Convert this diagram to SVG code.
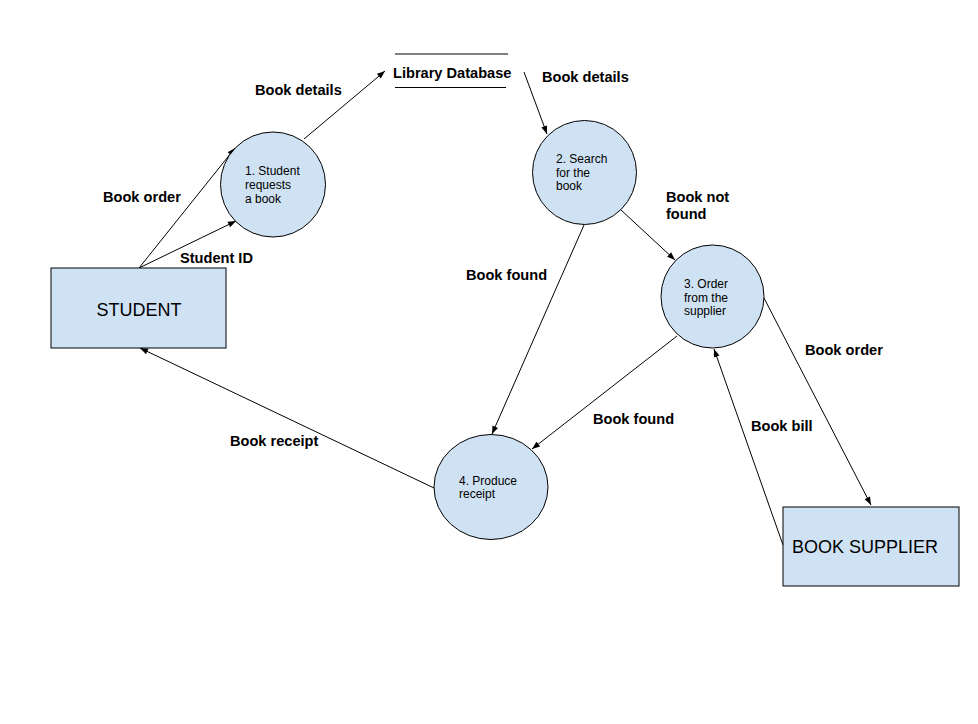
<svg xmlns="http://www.w3.org/2000/svg" width="978" height="724" viewBox="0 0 978 724">
<style>
.box{fill:#cfe2f3;stroke:#000;stroke-width:1}
.ln{fill:none;stroke:#000;stroke-width:1;marker-end:url(#ah)}
.lbl{font-family:"Liberation Sans",Arial,sans-serif;font-weight:bold;font-size:14.6px;fill:#000}
.pt{font-family:"Liberation Sans",Arial,sans-serif;font-size:12px;fill:#000}
.ent{font-family:"Liberation Sans",Arial,sans-serif;font-size:18px;fill:#000}
</style>
<defs>
<marker id="ah" markerUnits="userSpaceOnUse" markerWidth="10" markerHeight="10" viewBox="0 0 10 10" refX="9" refY="5" orient="auto">
<path d="M1,2 L9,5 L1,8 Z" fill="#000"/>
</marker>
</defs>
<rect width="978" height="724" fill="#fff"/>
<g id="connectors">
<line class="ln" x1="139" y1="268" x2="235" y2="148"/>
<line class="ln" x1="139" y1="268" x2="236" y2="221"/>
<line class="ln" x1="304" y1="139" x2="385" y2="71"/>
<line class="ln" x1="524" y1="72" x2="547" y2="134"/>
<line class="ln" x1="621" y1="210" x2="675" y2="260"/>
<line class="ln" x1="584" y1="225" x2="492" y2="434"/>
<line class="ln" x1="677" y1="336" x2="532" y2="449"/>
<line class="ln" x1="764" y1="298" x2="871" y2="505"/>
<line class="ln" x1="783" y1="545" x2="714" y2="349"/>
<line class="ln" x1="434" y1="488" x2="140" y2="348"/>
</g>
<g id="student">
<rect class="box" x="51" y="268" width="175" height="80"/>
<text class="ent" x="139" y="316" text-anchor="middle">STUDENT</text>
</g>
<g id="p1">
<circle class="box" cx="273" cy="184.5" r="52.5"/>
<text class="pt" x="245" y="175">1. Student</text>
<text class="pt" x="245" y="189">requests</text>
<text class="pt" x="245" y="203">a book</text>
</g>
<g id="library-db">
<line x1="395" y1="54" x2="508" y2="54" stroke="#000" stroke-width="1"/>
<line x1="395" y1="87.5" x2="506" y2="87.5" stroke="#000" stroke-width="1"/>
<text class="lbl" x="393" y="78">Library Database</text>
</g>
<g id="p2">
<circle class="box" cx="584.5" cy="172.5" r="52"/>
<text class="pt" x="556" y="163">2. Search</text>
<text class="pt" x="556" y="177">for the</text>
<text class="pt" x="556" y="190">book</text>
</g>
<g id="p3">
<circle class="box" cx="712.5" cy="296.5" r="51.5"/>
<text class="pt" x="684" y="288">3. Order</text>
<text class="pt" x="684" y="302">from the</text>
<text class="pt" x="684" y="315">supplier</text>
</g>
<g id="p4">
<ellipse class="box" cx="491" cy="487" rx="57" ry="52.5"/>
<text class="pt" x="459" y="485">4. Produce</text>
<text class="pt" x="459" y="498">receipt</text>
</g>
<g id="supplier">
<rect class="box" x="783" y="507" width="176" height="79"/>
<text class="ent" x="792" y="553">BOOK SUPPLIER</text>
</g>
<g id="labels">
<text class="lbl" x="255" y="95">Book details</text>
<text class="lbl" x="103" y="202">Book order</text>
<text class="lbl" x="180" y="263">Student ID</text>
<text class="lbl" x="542" y="82">Book details</text>
<text class="lbl" x="666" y="202">Book not</text>
<text class="lbl" x="666" y="219">found</text>
<text class="lbl" x="466" y="280">Book found</text>
<text class="lbl" x="593" y="424">Book found</text>
<text class="lbl" x="751" y="431">Book bill</text>
<text class="lbl" x="805" y="355">Book order</text>
<text class="lbl" x="230" y="446">Book receipt</text>
</g>
</svg>
